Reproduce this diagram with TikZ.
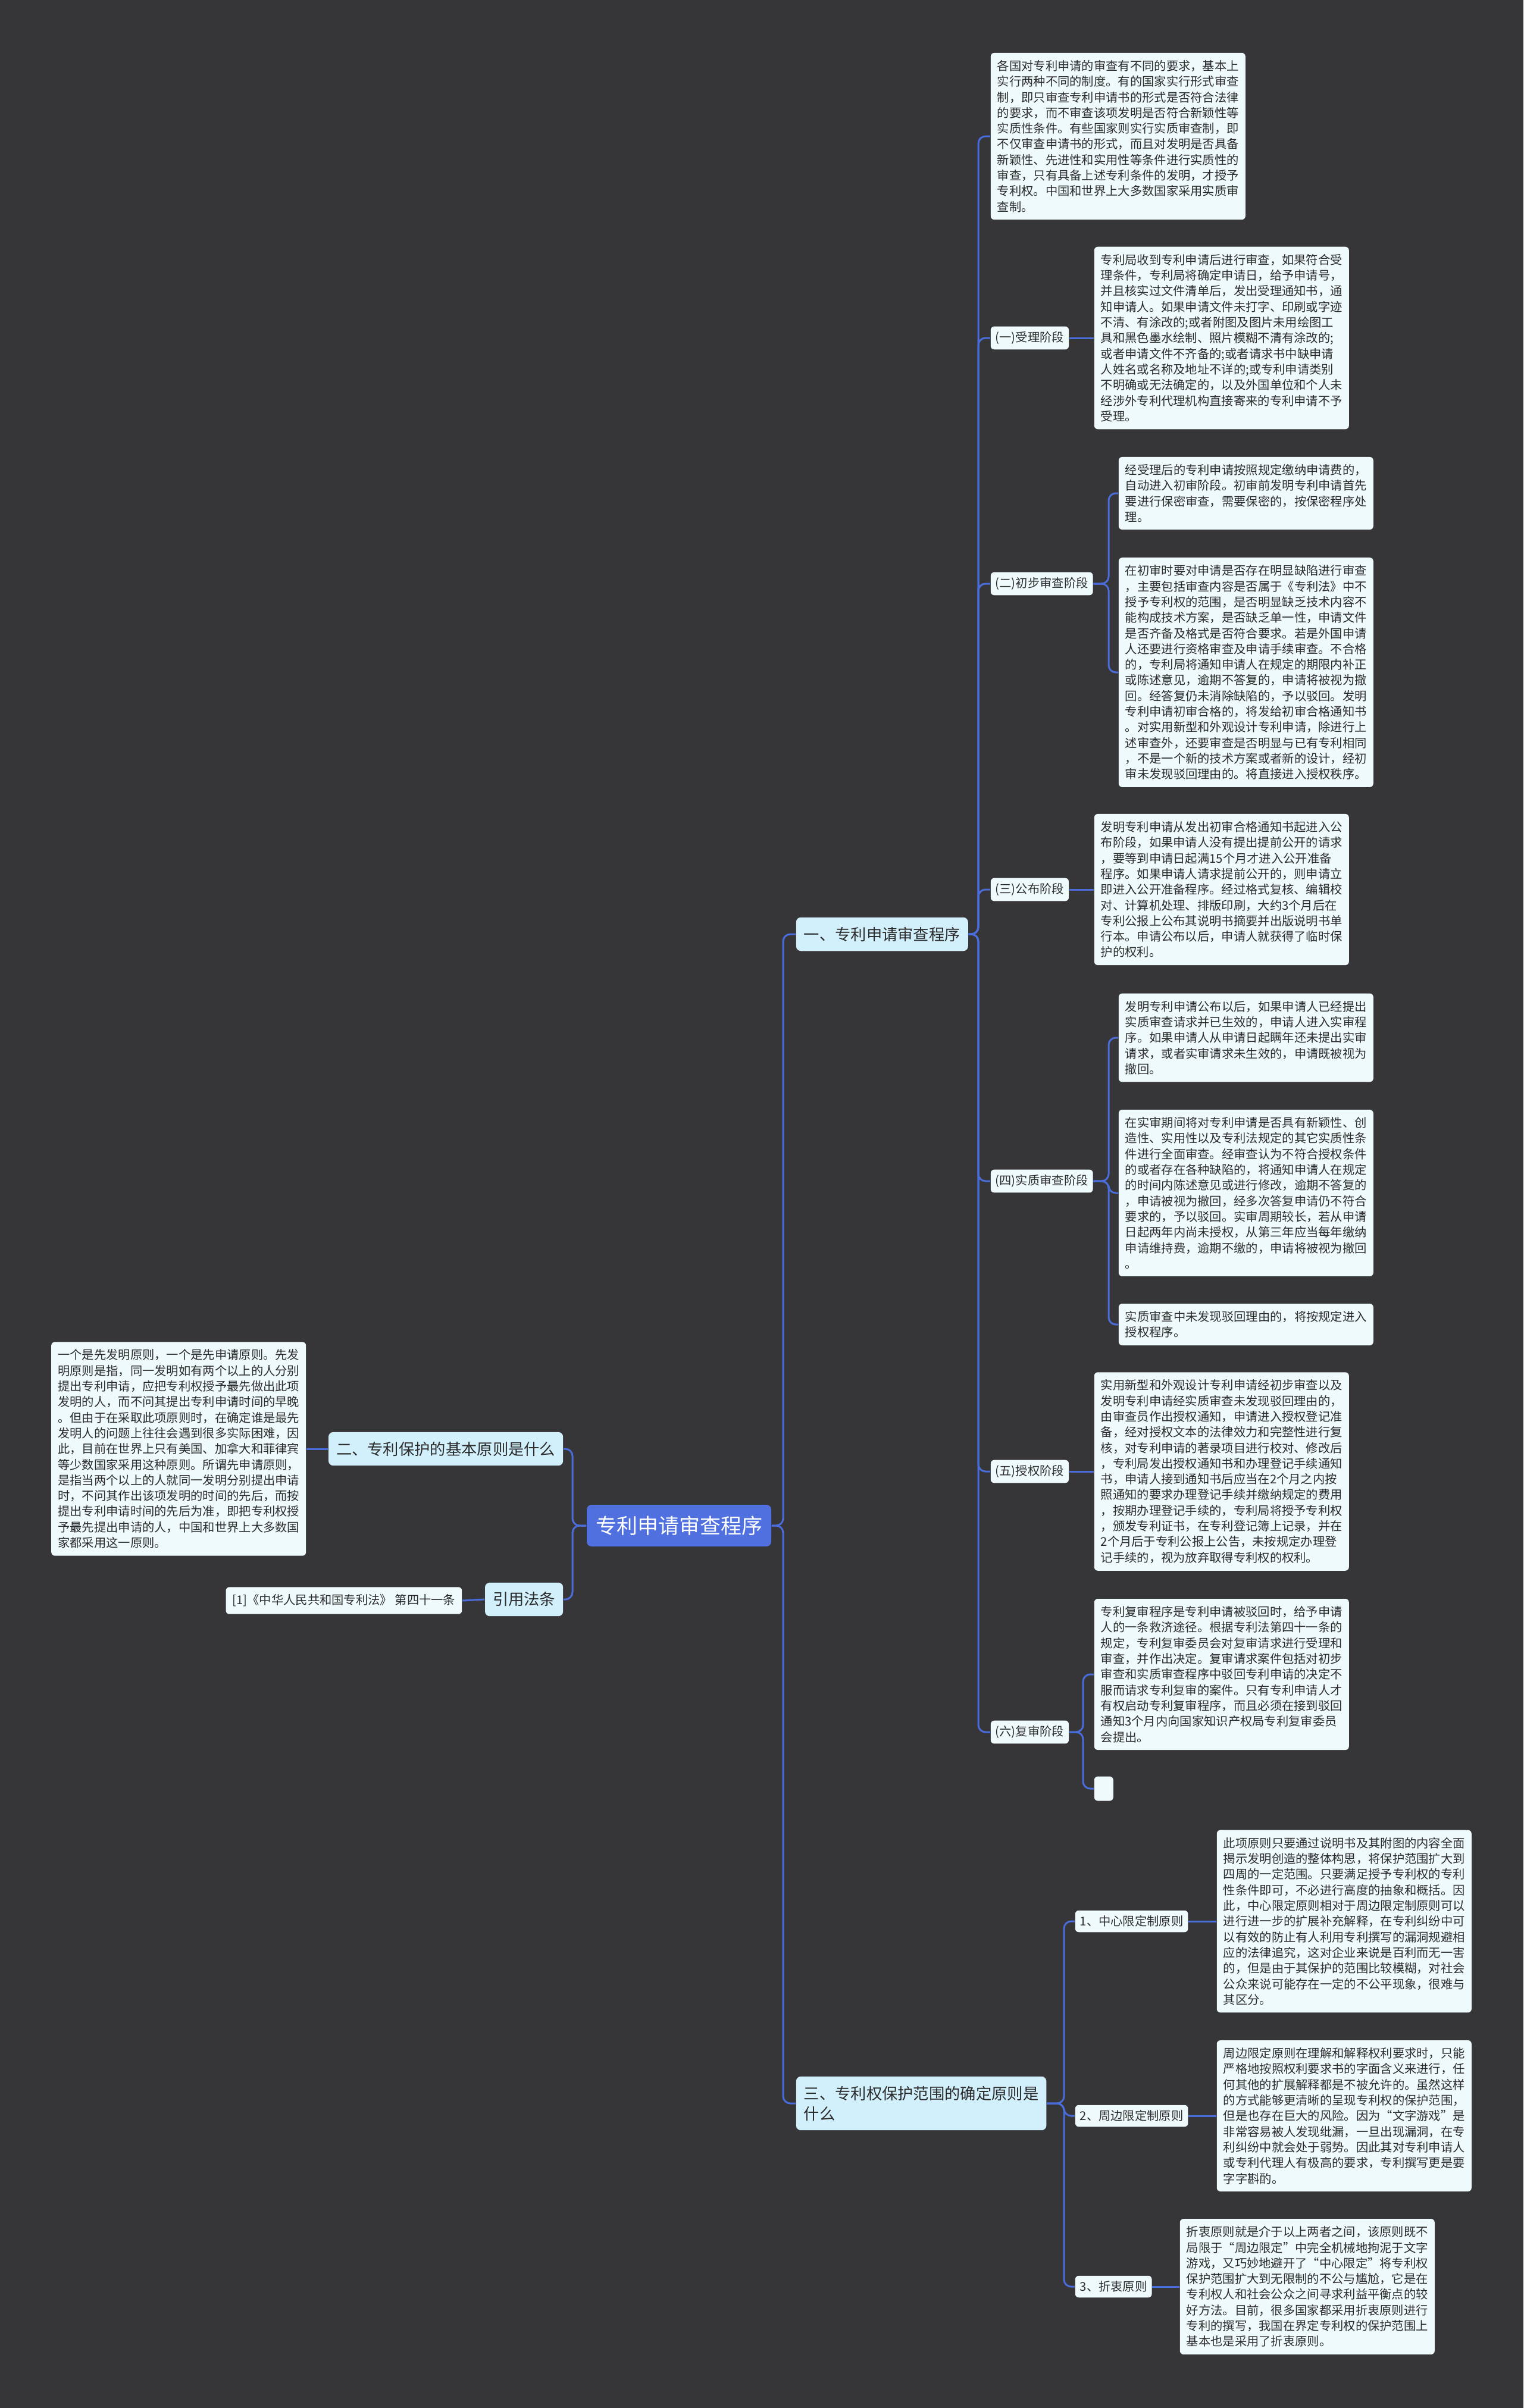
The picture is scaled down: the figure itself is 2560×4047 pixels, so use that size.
\documentclass[tikz,border=0pt]{standalone}
\usepackage{fontspec}
\setmainfont{Noto Sans CJK SC}
\definecolor{bgc}{HTML}{363538}
\definecolor{linec}{HTML}{4B6DDB}
\definecolor{centc}{HTML}{5070E0}
\definecolor{brc}{HTML}{D2F0FB}
\definecolor{leafc}{HTML}{EFFAFD}
\definecolor{txtc}{HTML}{2B2B2B}
\newcommand\leaffont{\fontsize{5.075pt}{6.575pt}\selectfont}
\newcommand\brfont{\fontsize{6.575pt}{8.5pt}\selectfont}
\newcommand\centfont{\fontsize{8.75pt}{10pt}\selectfont}
\tikzset{
  leaf/.style={fill=leafc, rounded corners=1.5pt, inner xsep=2.75pt, inner ysep=3.1pt, align=left, font=\leaffont, text=txtc},
  lab/.style={fill=leafc, rounded corners=1.5pt, inner xsep=2pt, inner ysep=2.2pt, font=\leaffont, text=txtc, anchor=west},
  brnode/.style={fill=brc, rounded corners=2pt, inner xsep=3.25pt, inner ysep=4pt, align=left, font=\brfont, text=txtc},
  centnode/.style={fill=centc, rounded corners=2pt, minimum width=77.5pt, minimum height=17.5pt, font=\centfont, text=white},
  conn/.style={draw=linec, line width=0.75pt, rounded corners=3pt}
}
\begin{document}
\begin{tikzpicture}[x=0.25pt,y=-0.25pt]
\fill[bgc] (0,0) rectangle (2560,4047);
\useasboundingbox (0,0) rectangle (2560,4047);

% center and branches
\node[centnode] (c) at (1141,2564) {专利申请审查程序};
\node[brnode, anchor=west] (b1) at (1337,1570) {一、专利申请审查程序};
\node[brnode, anchor=west] (b3) at (1337,3535) {三、专利权保护范围的确定原则是\\什么};
\node[brnode, anchor=east] (b2) at (947,2435) {二、专利保护的基本原则是什么};
\node[brnode, anchor=east] (b4) at (947,2688) {引用法条};

% left side leaves
\node[leaf, anchor=east] (lb) at (515,2435) {一个是先发明原则，一个是先申请原则。先发\\明原则是指，同一发明如有两个以上的人分别\\提出专利申请，应把专利权授予最先做出此项\\发明的人，而不问其提出专利申请时间的早晚\\。但由于在采取此项原则时，在确定谁是最先\\发明人的问题上往往会遇到很多实际困难，因\\此，目前在世界上只有美国、加拿大和菲律宾\\等少数国家采用这种原则。所谓先申请原则，\\是指当两个以上的人就同一发明分别提出申请\\时，不问其作出该项发明的时间的先后，而按\\提出专利申请时间的先后为准，即把专利权授\\予最先提出申请的人，中国和世界上大多数国\\家都采用这一原则。};
\node[leaf, anchor=east] (cite) at (777,2690) {[1]《中华人民共和国专利法》 第四十一条};

% branch 1 children
\node[leaf, anchor=west] (t1) at (1664,229) {各国对专利申请的审查有不同的要求，基本上\\实行两种不同的制度。有的国家实行形式审查\\制，即只审查专利申请书的形式是否符合法律\\的要求，而不审查该项发明是否符合新颖性等\\实质性条件。有些国家则实行实质审查制，即\\不仅审查申请书的形式，而且对发明是否具备\\新颖性、先进性和实用性等条件进行实质性的\\审查，只有具备上述专利条件的发明，才授予\\专利权。中国和世界上大多数国家采用实质审\\查制。};

\node[lab] (l1) at (1664,568) {(一)受理阶段};
\node[leaf, anchor=west] (t2) at (1838,568) {专利局收到专利申请后进行审查，如果符合受\\理条件，专利局将确定申请日，给予申请号，\\并且核实过文件清单后，发出受理通知书，通\\知申请人。如果申请文件未打字、印刷或字迹\\不清、有涂改的;或者附图及图片未用绘图工\\具和黑色墨水绘制、照片模糊不清有涂改的;\\或者申请文件不齐备的;或者请求书中缺申请\\人姓名或名称及地址不详的;或专利申请类别\\不明确或无法确定的，以及外国单位和个人未\\经涉外专利代理机构直接寄来的专利申请不予\\受理。};

\node[lab] (l2) at (1664,981) {(二)初步审查阶段};
\node[leaf, anchor=west] (t3) at (1879,829) {经受理后的专利申请按照规定缴纳申请费的，\\自动进入初审阶段。初审前发明专利申请首先\\要进行保密审查，需要保密的，按保密程序处\\理。};
\node[leaf, anchor=west] (t4) at (1879,1130) {在初审时要对申请是否存在明显缺陷进行审查\\，主要包括审查内容是否属于《专利法》中不\\授予专利权的范围，是否明显缺乏技术内容不\\能构成技术方案，是否缺乏单一性，申请文件\\是否齐备及格式是否符合要求。若是外国申请\\人还要进行资格审查及申请手续审查。不合格\\的，专利局将通知申请人在规定的期限内补正\\或陈述意见，逾期不答复的，申请将被视为撤\\回。经答复仍未消除缺陷的，予以驳回。发明\\专利申请初审合格的，将发给初审合格通知书\\。对实用新型和外观设计专利申请，除进行上\\述审查外，还要审查是否明显与已有专利相同\\，不是一个新的技术方案或者新的设计，经初\\审未发现驳回理由的。将直接进入授权秩序。};

\node[lab] (l3) at (1664,1495) {(三)公布阶段};
\node[leaf, anchor=west] (t5) at (1838,1495) {发明专利申请从发出初审合格通知书起进入公\\布阶段，如果申请人没有提出提前公开的请求\\，要等到申请日起满15个月才进入公开准备\\程序。如果申请人请求提前公开的，则申请立\\即进入公开准备程序。经过格式复核、编辑校\\对、计算机处理、排版印刷，大约3个月后在\\专利公报上公布其说明书摘要并出版说明书单\\行本。申请公布以后，申请人就获得了临时保\\护的权利。};

\node[lab] (l4) at (1664,1985) {(四)实质审查阶段};
\node[leaf, anchor=west] (t6) at (1879,1744) {发明专利申请公布以后，如果申请人已经提出\\实质审查请求并已生效的，申请人进入实审程\\序。如果申请人从申请日起瞒年还未提出实审\\请求，或者实审请求未生效的，申请既被视为\\撤回。};
\node[leaf, anchor=west] (t7) at (1879,2005) {在实审期间将对专利申请是否具有新颖性、创\\造性、实用性以及专利法规定的其它实质性条\\件进行全面审查。经审查认为不符合授权条件\\的或者存在各种缺陷的，将通知申请人在规定\\的时间内陈述意见或进行修改，逾期不答复的\\，申请被视为撤回，经多次答复申请仍不符合\\要求的，予以驳回。实审周期较长，若从申请\\日起两年内尚未授权，从第三年应当每年缴纳\\申请维持费，逾期不缴的，申请将被视为撤回\\。};
\node[leaf, anchor=west] (t8) at (1879,2226) {实质审查中未发现驳回理由的，将按规定进入\\授权程序。};

\node[lab] (l5) at (1664,2473) {(五)授权阶段};
\node[leaf, anchor=west] (t9) at (1838,2473) {实用新型和外观设计专利申请经初步审查以及\\发明专利申请经实质审查未发现驳回理由的，\\由审查员作出授权通知，申请进入授权登记准\\备，经对授权文本的法律效力和完整性进行复\\核，对专利申请的著录项目进行校对、修改后\\，专利局发出授权通知书和办理登记手续通知\\书，申请人接到通知书后应当在2个月之内按\\照通知的要求办理登记手续并缴纳规定的费用\\，按期办理登记手续的，专利局将授予专利权\\，颁发专利证书，在专利登记簿上记录，并在\\2个月后于专利公报上公告，未按规定办理登\\记手续的，视为放弃取得专利权的权利。};

\node[lab] (l6) at (1664,2911) {(六)复审阶段};
\node[leaf, anchor=west] (t10) at (1838,2814) {专利复审程序是专利申请被驳回时，给予申请\\人的一条救济途径。根据专利法第四十一条的\\规定，专利复审委员会对复审请求进行受理和\\审查，并作出决定。复审请求案件包括对初步\\审查和实质审查程序中驳回专利申请的决定不\\服而请求专利复审的案件。只有专利申请人才\\有权启动专利复审程序，而且必须在接到驳回\\通知3个月内向国家知识产权局专利复审委员\\会提出。};
\node[leaf, anchor=west, inner sep=0pt, minimum width=8pt, minimum height=10.25pt] (t11) at (1838,3006) {};

% branch 3 children
\node[lab] (m1) at (1806,3229) {1、中心限定制原则};
\node[leaf, anchor=west] (u1) at (2044,3229) {此项原则只要通过说明书及其附图的内容全面\\揭示发明创造的整体构思，将保护范围扩大到\\四周的一定范围。只要满足授予专利权的专利\\性条件即可，不必进行高度的抽象和概括。因\\此，中心限定原则相对于周边限定制原则可以\\进行进一步的扩展补充解释，在专利纠纷中可\\以有效的防止有人利用专利撰写的漏洞规避相\\应的法律追究，这对企业来说是百利而无一害\\的，但是由于其保护的范围比较模糊，对社会\\公众来说可能存在一定的不公平现象，很难与\\其区分。};
\node[lab] (m2) at (1806,3556) {2、周边限定制原则};
\node[leaf, anchor=west] (u2) at (2044,3556) {周边限定原则在理解和解释权利要求时，只能\\严格地按照权利要求书的字面含义来进行，任\\何其他的扩展解释都是不被允许的。虽然这样\\的方式能够更清晰的呈现专利权的保护范围，\\但是也存在巨大的风险。因为“文字游戏”是\\非常容易被人发现纰漏，一旦出现漏洞，在专\\利纠纷中就会处于弱势。因此其对专利申请人\\或专利代理人有极高的要求，专利撰写更是要\\字字斟酌。};
\node[lab] (m3) at (1806,3843) {3、折衷原则};
\node[leaf, anchor=west] (u3) at (1982,3843) {折衷原则就是介于以上两者之间，该原则既不\\局限于“周边限定”中完全机械地拘泥于文字\\游戏，又巧妙地避开了“中心限定”将专利权\\保护范围扩大到无限制的不公与尴尬，它是在\\专利权人和社会公众之间寻求利益平衡点的较\\好方法。目前，很多国家都采用折衷原则进行\\专利的撰写，我国在界定专利权的保护范围上\\基本也是采用了折衷原则。};

% connectors: center
\draw[conn] (c.east) -- (1316,2564) |- (b1.west);
\draw[conn] (c.east) -- (1316,2564) |- (b3.west);
\draw[conn] (c.west) -- (962,2564) |- (b2.east);
\draw[conn] (c.west) -- (962,2564) |- (b4.east);
\draw[conn] (b2.west) -- (lb.east);
\draw[conn] (b4.west) -- (cite.east);

% branch 1
\foreach \n in {t1,l1,l2,l3,l4,l5,l6}{
  \draw[conn] (b1.east) -- (1644,1570) |- (\n.west);
}
\draw[conn] (l1.east) -- (t2.west);
\draw[conn] (l2.east) -- (1863,981) |- (t3.west);
\draw[conn] (l2.east) -- (1863,981) |- (t4.west);
\draw[conn] (l3.east) -- (t5.west);
\draw[conn] (l4.east) -- (1863,1985) |- (t6.west);
\draw[conn] (l4.east) -- (1863,1985) |- (t7.west);
\draw[conn] (l4.east) -- (1863,1985) |- (t8.west);
\draw[conn] (l5.east) -- (t9.west);
\draw[conn] (l6.east) -- (1820,2911) |- (t10.west);
\draw[conn] (l6.east) -- (1820,2911) |- (t11.west);

% branch 3
\foreach \n in {m1,m2,m3}{
  \draw[conn] (b3.east) -- (1788,3535) |- (\n.west);
}
\draw[conn] (m1.east) -- (u1.west);
\draw[conn] (m2.east) -- (u2.west);
\draw[conn] (m3.east) -- (u3.west);
\end{tikzpicture}
\end{document}
